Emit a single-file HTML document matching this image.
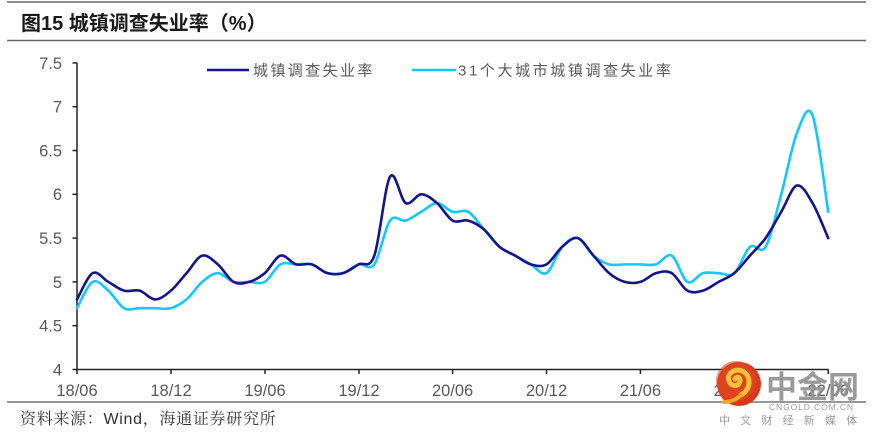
<!DOCTYPE html>
<html><head><meta charset="utf-8"><style>
html,body{margin:0;padding:0;background:#fff;}
body{width:873px;height:437px;overflow:hidden;position:relative;font-family:"Liberation Sans","Noto Sans CJK SC",sans-serif;}
svg{position:absolute;left:0;top:0;}
</style></head><body>
<svg width="873" height="437" viewBox="0 0 873 437" xmlns="http://www.w3.org/2000/svg">
  <!-- header lines -->
  <line x1="7" y1="2" x2="866" y2="2" stroke="#666" stroke-width="1.5"/>
  <line x1="7" y1="40.5" x2="866" y2="40.5" stroke="#666" stroke-width="1.5"/>
  <line x1="7" y1="402" x2="866" y2="402" stroke="#777" stroke-width="1.5"/>
  <text x="21" y="30" font-family="Liberation Sans, Noto Sans CJK SC, sans-serif" font-size="20" font-weight="bold" fill="#1a1a1a">图15 城镇调查失业率（%）</text>

  <!-- axes -->
  <g stroke="#222" stroke-width="1.5">
    <line x1="77" y1="62.9" x2="77" y2="369.5"/>
    <line x1="76.3" y1="369.5" x2="828.5" y2="369.5"/>
    <!-- y ticks -->
    <line x1="72.5" y1="62.9" x2="77" y2="62.9"/>
    <line x1="72.5" y1="106.7" x2="77" y2="106.7"/>
    <line x1="72.5" y1="150.5" x2="77" y2="150.5"/>
    <line x1="72.5" y1="194.3" x2="77" y2="194.3"/>
    <line x1="72.5" y1="238.1" x2="77" y2="238.1"/>
    <line x1="72.5" y1="281.9" x2="77" y2="281.9"/>
    <line x1="72.5" y1="325.7" x2="77" y2="325.7"/>
    <line x1="72.5" y1="369.5" x2="77" y2="369.5"/>
    <!-- x ticks -->
    <line x1="77" y1="369.5" x2="77" y2="374"/>
    <line x1="171" y1="369.5" x2="171" y2="374"/>
    <line x1="265" y1="369.5" x2="265" y2="374"/>
    <line x1="359" y1="369.5" x2="359" y2="374"/>
    <line x1="452.6" y1="369.5" x2="452.6" y2="374"/>
    <line x1="546.5" y1="369.5" x2="546.5" y2="374"/>
    <line x1="640.4" y1="369.5" x2="640.4" y2="374"/>
    <line x1="734.3" y1="369.5" x2="734.3" y2="374"/>
    <line x1="828.2" y1="369.5" x2="828.2" y2="374"/>
  </g>
  <g font-family="Liberation Sans, sans-serif" font-size="16.5" fill="#595959" text-anchor="end">
    <text x="62" y="68.8">7.5</text>
    <text x="62" y="112.6">7</text>
    <text x="62" y="156.4">6.5</text>
    <text x="62" y="200.2">6</text>
    <text x="62" y="244">5.5</text>
    <text x="62" y="287.8">5</text>
    <text x="62" y="331.6">4.5</text>
    <text x="62" y="375.4">4</text>
  </g>
  <g font-family="Liberation Sans, sans-serif" font-size="16.5" fill="#595959" text-anchor="middle">
    <text x="77" y="396">18/06</text>
    <text x="171" y="396">18/12</text>
    <text x="265" y="396">19/06</text>
    <text x="359" y="396">19/12</text>
    <text x="452.6" y="396">20/06</text>
    <text x="546.5" y="396">20/12</text>
    <text x="640.4" y="396">21/06</text>
    <text x="734.3" y="396">21/12</text>
    <text x="828.2" y="396">22/06</text>
  </g>

  <!-- legend -->
  <line x1="207" y1="70" x2="249" y2="70" stroke="#14148c" stroke-width="2.6"/>
  <text x="253" y="75.5" font-family="Liberation Sans, Noto Sans CJK SC, sans-serif" font-size="15" fill="#595959" letter-spacing="2.4">城镇调查失业率</text>
  <line x1="412" y1="70" x2="456" y2="70" stroke="#14c8fa" stroke-width="2.6"/>
  <text x="458" y="75.5" font-family="Liberation Sans, Noto Sans CJK SC, sans-serif" font-size="15" fill="#595959" letter-spacing="2.6">31个大城市城镇调查失业率</text>

  <!-- series (fallback polylines in data coords) -->
  <g id="series" fill="none" stroke-linejoin="round" stroke-linecap="round">
    <polyline id="s2" transform="matrix(15.65 0 0 -87.6 77 719.9)" vector-effect="non-scaling-stroke" stroke="#14c8fa" stroke-width="2.6"
      points="0,4.7 1,5.0 2,4.9 3,4.7 4,4.7 5,4.7 6,4.7 7,4.8 8,5.0 9,5.1 10,5.0 11,5.0 12,5.0 13,5.2 14,5.2 15,5.2 16,5.1 17,5.1 18,5.2 19,5.2 20,5.7 21,5.7 22,5.8 23,5.9 24,5.8 25,5.8 26,5.6 27,5.4 28,5.3 29,5.2 30,5.1 31,5.4 32,5.5 33,5.3 34,5.2 35,5.2 36,5.2 37,5.2 38,5.3 39,5.0 40,5.1 41,5.1 42,5.1 43,5.4 44,5.4 45,6.0 46,6.7 47,6.9 48,5.8"/>
    <polyline id="s1" transform="matrix(15.65 0 0 -87.6 77 719.9)" vector-effect="non-scaling-stroke" stroke="#14148c" stroke-width="2.6"
      points="0,4.8 1,5.1 2,5.0 3,4.9 4,4.9 5,4.8 6,4.9 7,5.1 8,5.3 9,5.2 10,5.0 11,5.0 12,5.1 13,5.3 14,5.2 15,5.2 16,5.1 17,5.1 18,5.2 19,5.3 20,6.2 21,5.9 22,6.0 23,5.9 24,5.7 25,5.7 26,5.6 27,5.4 28,5.3 29,5.2 30,5.2 31,5.4 32,5.5 33,5.3 34,5.1 35,5.0 36,5.0 37,5.1 38,5.1 39,4.9 40,4.9 41,5.0 42,5.1 43,5.3 44,5.5 45,5.8 46,6.1 47,5.9 48,5.5"/>
  </g>

  <!-- watermark -->
  <circle cx="739" cy="384" r="22" fill="#d8391c"/>
  <circle cx="736" cy="381" r="20" fill="#e24a1f" opacity="0.6"/>
  <path d="M741,395 C750,390 752,378 744,372 C736,367 726,373 729,381 C731,387 739,387 740,381 C741,377 736,376 735,379" fill="none" stroke="#f7c23a" stroke-width="5" stroke-linecap="round"/>
  <path d="M741,395 C736,400 730,402 724,402" fill="none" stroke="#f2a92a" stroke-width="4" stroke-linecap="round"/>
  <text x="766" y="398" font-family="Noto Sans CJK SC, sans-serif" font-size="31" font-weight="bold" fill="#909090" opacity="0.9">中金网</text>
  <text x="769" y="410" font-family="Liberation Sans, sans-serif" font-size="8.5" fill="#9a9a9a" letter-spacing="0.9">CNGOLD.COM.CN</text>
  <text x="719" y="424" font-family="Noto Sans CJK SC, sans-serif" font-size="11" fill="#9a9a9a" letter-spacing="10.2">中文财经新媒体</text>

  <!-- footer -->
  <text x="20" y="424" font-family="Liberation Sans, Noto Serif CJK SC, serif" font-size="16" fill="#333" letter-spacing="0.7">资料来源：Wind，海通证券研究所</text>
</svg>
<script>
(function(){
  function smooth(id){
    var pl=document.getElementById(id); if(!pl) return;
    var raw=pl.getAttribute('points').trim().split(/\s+/).map(function(s){var a=s.split(',');return [77+15.65*(+a[0]), 719.9-87.6*(+a[1])];});
    var d='M'+raw[0][0].toFixed(2)+','+raw[0][1].toFixed(2);
    for(var i=0;i<raw.length-1;i++){
      var p0=raw[i-1]||raw[i], p1=raw[i], p2=raw[i+1], p3=raw[i+2]||raw[i+1];
      var c1=[p1[0]+(p2[0]-p0[0])/6, p1[1]+(p2[1]-p0[1])/6];
      var c2=[p2[0]-(p3[0]-p1[0])/6, p2[1]-(p3[1]-p1[1])/6];
      d+=' C'+c1[0].toFixed(2)+','+c1[1].toFixed(2)+' '+c2[0].toFixed(2)+','+c2[1].toFixed(2)+' '+p2[0].toFixed(2)+','+p2[1].toFixed(2);
    }
    var p=document.createElementNS('http://www.w3.org/2000/svg','path');
    p.setAttribute('d',d); p.setAttribute('stroke',pl.getAttribute('stroke'));
    p.setAttribute('stroke-width','2.6'); p.setAttribute('fill','none');
    p.setAttribute('stroke-linejoin','round'); p.setAttribute('stroke-linecap','round');
    pl.parentNode.replaceChild(p,pl);
  }
  smooth('s2'); smooth('s1');
})();
</script>
</body></html>
